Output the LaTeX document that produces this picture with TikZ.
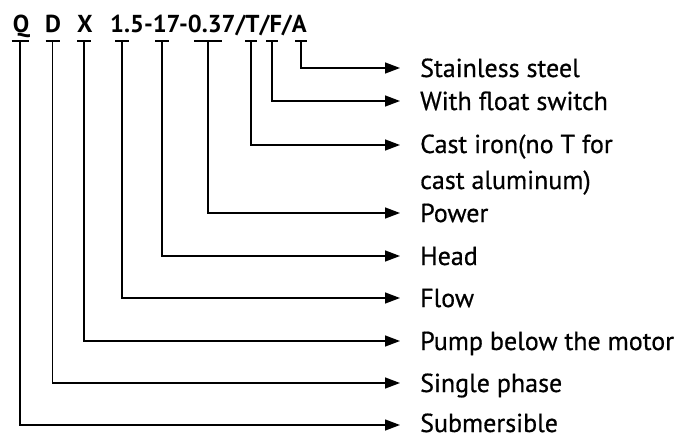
\documentclass[tikz,border=0pt]{standalone}
\usepackage{fontspec}
\setmainfont{PT Sans}
\newfontfamily\lblfont{PT Sans}[FakeBold=0.6]
\usetikzlibrary{arrows.meta}
\begin{document}
\begin{tikzpicture}[x=1pt,y=-1pt,
  conn/.style={line width=1.4pt,-{Triangle[length=15pt,width=11pt]}},
  tickbar/.style={line width=1.6pt},
  lbl/.style={anchor=base west, inner ysep=0pt, inner xsep=20pt, font=\lblfont\fontsize{26}{36}\selectfont, align=left},
  code/.style={anchor=base, inner sep=0pt, font=\bfseries\fontsize{24.5}{28}\selectfont}]
\useasboundingbox (0,0) rectangle (685,439);
% code letters
\node[code] (cQ) at (21,32) {Q};
\node[code] (cD) at (53,32) {D};
\node[code] (cX) at (85,32) {X};
\node[code, anchor=base west] (cR) at (110,32) {1.5-17-0.37/T/F/A};
% tick points
\foreach \n/\x/\w in {Q/20/8.5, D/52.5/7, X/84/7, a/122/7, b/162/7, c/208/14, T/251/6, F/272/6, A/301/6}{
  \coordinate (t\n) at (\x,41);
  \draw[tickbar] (\x-\w,41) -- (\x+\w,41);
}
% labels
\node[lbl] (lA) at (400,77) {Stainless steel};
\node[lbl] (lF) at (400,110) {With float switch};
\node[lbl] (lT) at (400,189) {Cast iron(no T for\\cast aluminum)};
\node[lbl] (lc) at (400,222) {Power};
\node[lbl] (lb) at (400,265) {Head};
\node[lbl] (la) at (400,307) {Flow};
\node[lbl] (lX) at (400,350) {Pump below the motor};
\node[lbl] (lD) at (400,392) {Single phase};
\node[lbl] (lQ) at (400,432) {Submersible};
% connectors
\foreach \n in {A,F,c,b,a,X,D}{
  \draw[conn] (t\n) |- ([yshift=9pt]l\n.base west);
}
\draw[conn] (tQ) |- ([yshift=7pt]lQ.base west);
\draw[conn] (tT) |- ([yshift=44pt]lT.base west);
\end{tikzpicture}
\end{document}
